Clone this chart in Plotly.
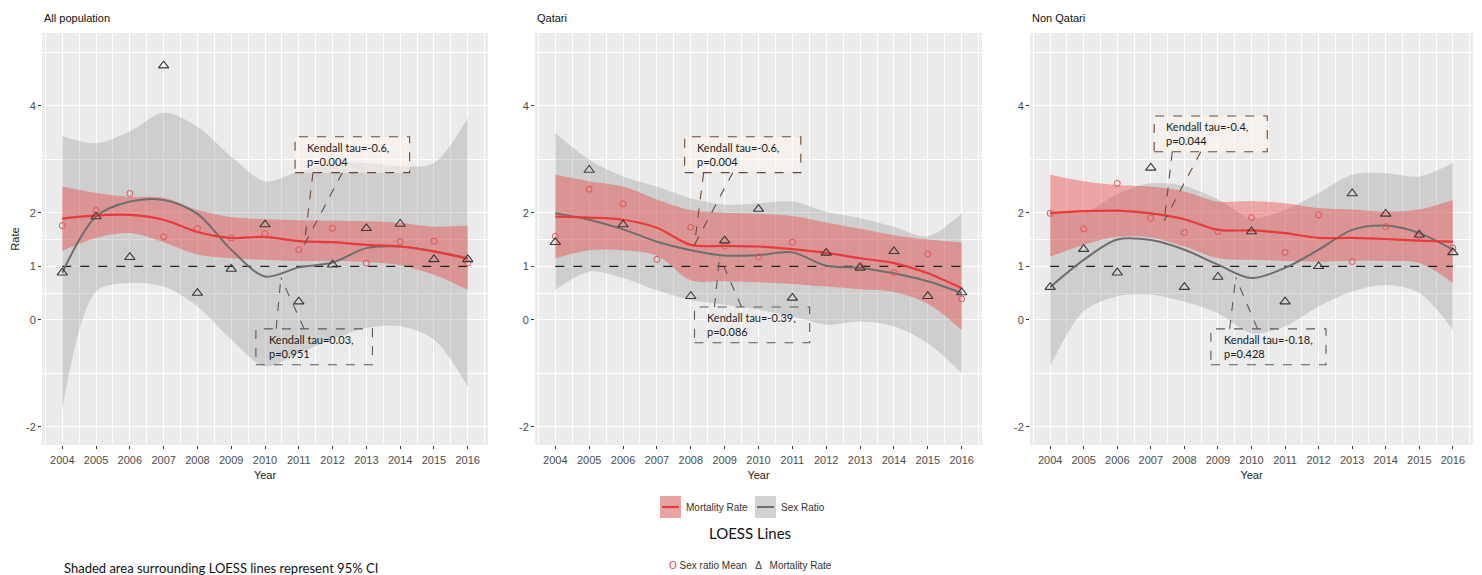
import plotly.graph_objects as go

# ---------------- data ----------------
years = [2004, 2005, 2006, 2007, 2008, 2009, 2010, 2011, 2012, 2013, 2014, 2015, 2016]
panel_titles = ["All population", "Qatari", "Non Qatari"]
y_tick_values = [-2, 0, 1, 2, 4]
y_minor_values = [-1, 0.5, 1.5, 3, 5]

# All population
a_sex_ratio = [1.76, 2.04, 2.36, 1.55, 1.71, 1.53, 1.61, 1.31, 1.71, 1.06, 1.46, 1.47, 1.06]
a_mortality = [0.88, 1.93, 1.17, 4.75, 0.50, 0.95, 1.78, 0.34, 1.03, 1.71, 1.79, 1.13, 1.13]
a_red_fit = [1.89, 1.95, 1.96, 1.87, 1.64, 1.53, 1.55, 1.47, 1.45, 1.40, 1.37, 1.28, 1.14]
a_red_upper = [2.49, 2.37, 2.30, 2.28, 2.05, 1.92, 1.88, 1.86, 1.85, 1.84, 1.81, 1.74, 1.76]
a_red_lower = [1.29, 1.53, 1.62, 1.45, 1.22, 1.15, 1.12, 1.10, 1.10, 1.08, 1.02, 0.84, 0.56]
a_grey_fit = [0.88, 1.93, 2.21, 2.24, 1.98, 1.31, 0.81, 0.98, 1.07, 1.34, 1.37, 1.28, 1.15]
a_grey_upper = [3.43, 3.30, 3.52, 3.87, 3.61, 3.05, 2.59, 2.77, 2.93, 2.93, 2.87, 2.93, 3.77]
a_grey_lower = [-1.68, 0.53, 0.69, 0.62, 0.25, -0.37, -0.87, -0.62, -0.37, -0.15, -0.12, -0.37, -1.25]

# Qatari
q_sex_ratio = [1.56, 2.44, 2.17, 1.13, 1.73, 1.38, 1.18, 1.45, 1.25, 1.01, 0.88, 1.23, 0.39]
q_mortality = [1.45, 2.80, 1.78, None, 0.44, 1.48, 2.07, 0.41, 1.25, 0.97, 1.28, 0.44, 0.51]
q_red_fit = [1.93, 1.91, 1.87, 1.72, 1.40, 1.38, 1.37, 1.32, 1.25, 1.15, 1.06, 0.87, 0.59]
q_red_upper = [2.71, 2.59, 2.49, 2.25, 2.05, 2.00, 1.98, 1.94, 1.82, 1.70, 1.58, 1.50, 1.45]
q_red_lower = [1.15, 1.30, 1.30, 1.20, 0.74, 0.72, 0.70, 0.67, 0.62, 0.57, 0.52, 0.30, -0.19]
q_grey_fit = [1.99, 1.87, 1.69, 1.46, 1.30, 1.20, 1.21, 1.26, 1.01, 0.97, 0.87, 0.72, 0.50]
q_grey_upper = [3.49, 2.99, 2.68, 2.49, 2.27, 2.15, 2.18, 2.21, 2.02, 1.90, 1.74, 1.56, 1.99]
q_grey_lower = [0.56, 0.90, 0.78, 0.55, 0.37, 0.28, 0.19, 0.06, -0.09, -0.03, -0.12, -0.44, -1.00]

# Non Qatari
n_sex_ratio = [1.99, 1.70, 2.55, 1.90, 1.63, 1.65, 1.91, 1.26, 1.96, 1.09, 1.74, 1.57, 1.34]
n_mortality = [0.61, 1.32, 0.88, 2.84, 0.61, 0.80, 1.65, 0.34, 1.00, 2.36, 1.98, 1.59, 1.26]
n_red_fit = [1.99, 2.03, 2.04, 1.99, 1.88, 1.68, 1.67, 1.62, 1.53, 1.53, 1.51, 1.48, 1.46]
n_red_upper = [2.71, 2.59, 2.52, 2.49, 2.40, 2.21, 2.22, 2.18, 2.09, 2.06, 2.02, 2.06, 2.24]
n_red_lower = [1.18, 1.40, 1.55, 1.54, 1.37, 1.15, 1.12, 1.10, 1.09, 1.10, 1.10, 1.06, 0.69]
n_grey_fit = [0.61, 1.12, 1.50, 1.49, 1.31, 1.03, 0.78, 0.97, 1.31, 1.68, 1.76, 1.62, 1.31]
n_grey_upper = [2.05, 2.00, 2.35, 2.55, 2.50, 2.25, 1.90, 2.05, 2.37, 2.71, 2.74, 2.68, 2.93]
n_grey_lower = [-0.87, 0.16, 0.44, 0.47, 0.34, 0.12, -0.25, -0.12, 0.25, 0.53, 0.65, 0.50, -0.19]

reference_line = [1] * len(years)

red_kendall = ["Kendall tau=-0.6,<br>p=0.004", "Kendall tau=-0.6,<br>p=0.004", "Kendall tau=-0.4,<br>p=0.044"]
grey_kendall = ["Kendall tau=0.03,<br>p=0.951", "Kendall tau=-0.39,<br>p=0.086", "Kendall tau=-0.18,<br>p=0.428"]

panels = [
    dict(sr=a_sex_ratio, mr=a_mortality, rf=a_red_fit, ru=a_red_upper, rl=a_red_lower,
         gf=a_grey_fit, gu=a_grey_upper, gl=a_grey_lower),
    dict(sr=q_sex_ratio, mr=q_mortality, rf=q_red_fit, ru=q_red_upper, rl=q_red_lower,
         gf=q_grey_fit, gu=q_grey_upper, gl=q_grey_lower),
    dict(sr=n_sex_ratio, mr=n_mortality, rf=n_red_fit, ru=n_red_upper, rl=n_red_lower,
         gf=n_grey_fit, gu=n_grey_upper, gl=n_grey_lower),
]

# ---------------- layout geometry ----------------
W, H = 1482, 575
def px(x):
    return x / W
def py(y):
    return 1 - y / H

x_domains = [[px(42), px(488)], [px(535), px(982)], [px(1030), px(1473)]]
y_domain = [py(445), py(33)]

RED = "#E8393B"
RED_FILL = "rgba(236,70,70,0.42)"
GREY_LINE = "#6E6E6E"
GREY_FILL = "rgba(140,140,140,0.30)"
TXT = "#4D4D4D"
BASEFONT = "Liberation Sans, Arial, sans-serif"
CALFONT = "Lato, Open Sans, sans-serif"

fig = go.Figure()

for i, p in enumerate(panels):
    xa = "x" if i == 0 else f"x{i+1}"
    ya = "y" if i == 0 else f"y{i+1}"
    common = dict(xaxis=xa, yaxis=ya, showlegend=False, hoverinfo="skip")
    fig.add_trace(go.Scatter(x=years, y=p["gl"], mode="lines", line=dict(width=0, shape="spline", smoothing=0.9), **common))
    fig.add_trace(go.Scatter(x=years, y=p["gu"], mode="lines", line=dict(width=0, shape="spline", smoothing=0.9),
                             fill="tonexty", fillcolor=GREY_FILL, **common))
    fig.add_trace(go.Scatter(x=years, y=p["rl"], mode="lines", line=dict(width=0, shape="spline", smoothing=0.9), **common))
    fig.add_trace(go.Scatter(x=years, y=p["ru"], mode="lines", line=dict(width=0, shape="spline", smoothing=0.9),
                             fill="tonexty", fillcolor=RED_FILL, **common))
    fig.add_trace(go.Scatter(x=years, y=reference_line, mode="lines",
                             line=dict(color="#222222", width=1.3, dash="dash"), **common))
    fig.add_trace(go.Scatter(x=years, y=p["gf"], mode="lines",
                             line=dict(color=GREY_LINE, width=2, shape="spline", smoothing=0.9), **common))
    fig.add_trace(go.Scatter(x=years, y=p["rf"], mode="lines",
                             line=dict(color=RED, width=2.2, shape="spline", smoothing=0.9), **common))
    fig.add_trace(go.Scatter(x=years, y=p["sr"], mode="markers",
                             marker=dict(symbol="circle-open", size=6, color="#E05555", line=dict(width=1)), **common))
    fig.add_trace(go.Scatter(x=years, y=p["mr"], mode="markers",
                             marker=dict(symbol="triangle-up-open", size=9, color="#3A3A3A", line=dict(width=1.1)), **common))

axis_common_x = dict(range=[2003.4, 2016.6], tickmode="linear", tick0=2004, dtick=1,
                     showgrid=True, gridcolor="white", gridwidth=1.1, zeroline=False,
                     ticks="outside", ticklen=3, tickcolor="#333333", tickwidth=1,
                     ticklabelstandoff=2,
                     tickfont=dict(family=BASEFONT, size=11, color=TXT),
                     minor=dict(dtick=0.5, showgrid=True, gridcolor="white", gridwidth=0.5, ticks=""),
                     title=dict(text="Year", font=dict(family=BASEFONT, size=11, color="#222"), standoff=6))
axis_common_y = dict(range=[-2.34, 5.36], tickmode="array", tickvals=y_tick_values,
                     ticktext=[str(v) for v in y_tick_values],
                     showgrid=True, gridcolor="white", gridwidth=1.1, zeroline=False,
                     ticks="outside", ticklen=3, tickcolor="#333333", tickwidth=1,
                     tickfont=dict(family=BASEFONT, size=11, color=TXT),
                     minor=dict(tickmode="array", tickvals=y_minor_values, showgrid=True,
                                gridcolor="white", gridwidth=0.5, ticks=""))

layout = dict(width=W, height=H, margin=dict(l=0, r=0, t=0, b=0),
              paper_bgcolor="white", plot_bgcolor="#EBEBEB", showlegend=False)
for i in range(3):
    xk = "xaxis" if i == 0 else f"xaxis{i+1}"
    yk = "yaxis" if i == 0 else f"yaxis{i+1}"
    xa = dict(axis_common_x, domain=x_domains[i], anchor="y" if i == 0 else f"y{i+1}")
    ya = dict(axis_common_y, domain=y_domain, anchor="x" if i == 0 else f"x{i+1}")
    if i == 0:
        ya["title"] = dict(text="Rate", font=dict(family=BASEFONT, size=11, color="#222"), standoff=4)
    layout[xk] = xa
    layout[yk] = ya
fig.update_layout(**layout)

# ---------------- Kendall callouts ----------------
red_boxes = [
    dict(x0=2010.89, x1=2014.28, y0=2.75, y1=3.42, tx=2011.17, bx=[2011.42, 2012.29], tip=(2011.16, 1.40)),
    dict(x0=2007.82, x1=2011.25, y0=2.75, y1=3.42, tx=2008.11, bx=[2008.38, 2009.24], tip=(2008.11, 1.40)),
    dict(x0=2007.10, x1=2010.47, y0=3.14, y1=3.81, tx=2007.40, bx=[2007.64, 2008.49], tip=(2007.40, 1.85)),
]
grey_boxes = [
    dict(x0=2009.73, x1=2013.18, y0=-0.84, y1=-0.17, tx=2010.06, bx=[2010.33, 2011.16], tip=(2010.47, 0.79)),
    dict(x0=2008.11, x1=2011.51, y0=-0.43, y1=0.24, tx=2008.41, bx=[2008.70, 2009.50], tip=(2008.85, 1.18)),
    dict(x0=2008.79, x1=2012.22, y0=-0.84, y1=-0.17, tx=2009.11, bx=[2009.35, 2010.18], tip=(2009.53, 0.79)),
]

for i in range(3):
    xr = "x" if i == 0 else f"x{i+1}"
    yr = "y" if i == 0 else f"y{i+1}"
    for box, text, col, fillc, top in [(red_boxes[i], red_kendall[i], "#6B4A35", "rgba(255,246,236,0.55)", True),
                                       (grey_boxes[i], grey_kendall[i], "#5A5A5A", "rgba(0,0,0,0)", False)]:
        fig.add_shape(type="rect", xref=xr, yref=yr, x0=box["x0"], x1=box["x1"], y0=box["y0"], y1=box["y1"],
                      line=dict(color=col, width=1.1, dash="dash"), fillcolor=fillc, layer="above")
        edge_y = box["y0"] if top else box["y1"]
        for bxv in box["bx"]:
            fig.add_shape(type="line", xref=xr, yref=yr, x0=bxv, y0=edge_y, x1=box["tip"][0], y1=box["tip"][1],
                          line=dict(color=col, width=1.1, dash="dash"), layer="above")
        fig.add_annotation(xref=xr, yref=yr, x=box["tx"], y=(box["y0"] + box["y1"]) / 2, text=text,
                           showarrow=False, xanchor="left", yanchor="middle", align="left",
                           font=dict(family=CALFONT, size=11, color="#1A1A1A"))

# ---------------- panel titles ----------------
title_x = [42, 535, 1030]
for tx, t in zip(title_x, panel_titles):
    fig.add_annotation(xref="paper", yref="paper", x=px(tx), y=py(18), text=t, showarrow=False,
                       xanchor="left", yanchor="middle", font=dict(family=BASEFONT, size=11, color="#111"))

# ---------------- custom legend ----------------
fig.add_shape(type="rect", xref="paper", yref="paper", x0=px(660), x1=px(681), y0=py(518), y1=py(496),
              line=dict(width=0), fillcolor="#E8A3A3")
fig.add_shape(type="line", xref="paper", yref="paper", x0=px(662), x1=px(679), y0=py(507), y1=py(507),
              line=dict(color=RED, width=2.2))
fig.add_annotation(xref="paper", yref="paper", x=px(684), y=py(507), text="Mortality Rate", showarrow=False,
                   xanchor="left", yanchor="middle", font=dict(family=BASEFONT, size=10, color="#333"))
fig.add_shape(type="rect", xref="paper", yref="paper", x0=px(755), x1=px(776), y0=py(518), y1=py(496),
              line=dict(width=0), fillcolor="#D2D2D2")
fig.add_shape(type="line", xref="paper", yref="paper", x0=px(757), x1=px(774), y0=py(507), y1=py(507),
              line=dict(color=GREY_LINE, width=2))
fig.add_annotation(xref="paper", yref="paper", x=px(779), y=py(507), text="Sex Ratio", showarrow=False,
                   xanchor="left", yanchor="middle", font=dict(family=BASEFONT, size=10, color="#333"))
fig.add_annotation(xref="paper", yref="paper", x=px(750), y=py(533), text="LOESS Lines", showarrow=False,
                   xanchor="center", yanchor="middle", font=dict(family=CALFONT, size=15, color="#111"))
fig.add_annotation(xref="paper", yref="paper", x=px(667), y=py(565),
                   text="<span style='color:#D84040'>O</span> Sex ratio Mean &nbsp; Δ &nbsp; Mortality Rate",
                   showarrow=False, xanchor="left", yanchor="middle",
                   font=dict(family=BASEFONT, size=10, color="#333"))
fig.add_annotation(xref="paper", yref="paper", x=px(62), y=py(558),
                   text="Shaded area surrounding LOESS lines represent 95% CI", showarrow=False,
                   xanchor="left", yanchor="top", font=dict(family=CALFONT, size=13, color="#111"))

fig.write_html("out.html", config={"displayModeBar": False},
               post_script="document.body.style.margin='0px';document.body.style.overflow='hidden';")
